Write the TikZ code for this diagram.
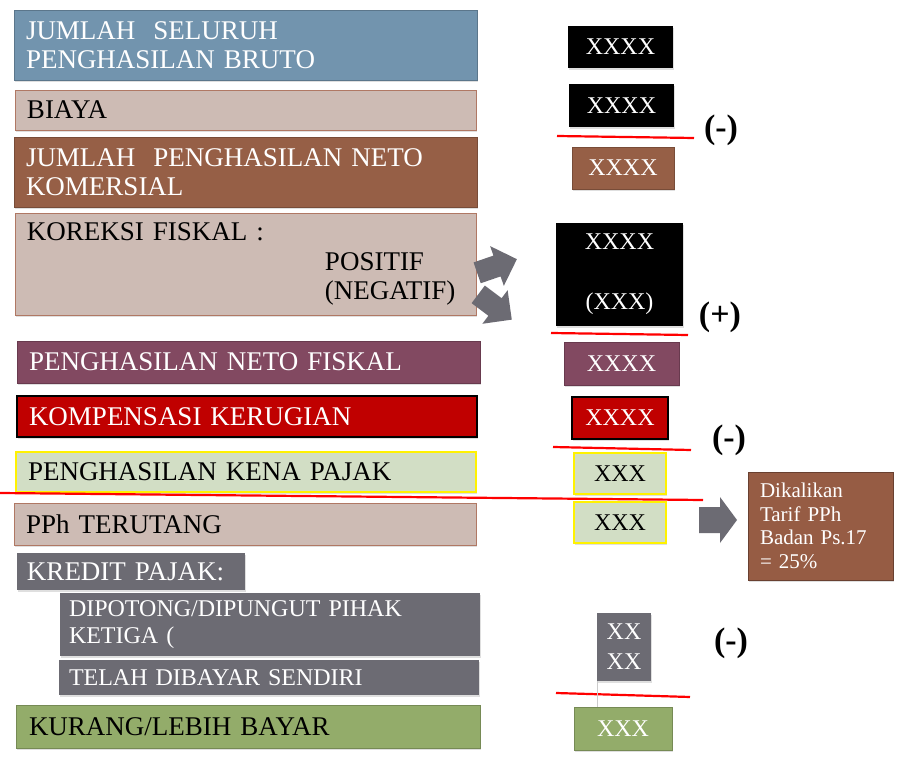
\documentclass[tikz,border=0pt]{standalone}
\usepackage{fontspec}
\setmainfont{Liberation Serif}
\usetikzlibrary{shadows}
\definecolor{blueBar}{RGB}{114,148,174}
\definecolor{tanBar}{RGB}{205,187,180}
\definecolor{tanLine}{RGB}{176,120,100}
\definecolor{brownBar}{RGB}{150,95,70}
\definecolor{purpleBar}{RGB}{130,73,97}
\definecolor{redBar}{RGB}{192,0,0}
\definecolor{paleGreen}{RGB}{210,222,197}
\definecolor{grayBar}{RGB}{108,107,115}
\definecolor{greenBar}{RGB}{147,172,106}
\definecolor{rateBrown}{RGB}{150,92,68}
\definecolor{redLine}{RGB}{255,0,0}

\begin{document}
\begin{tikzpicture}
  [x=1pt,y=-1pt,
   every node/.style={anchor=north west,outer sep=0pt,inner ysep=0pt},
   bar/.style={inner xsep=12pt,align=left,font=\fontsize{27}{29.5}\selectfont,
     drop shadow={opacity=0.25,shadow xshift=1pt,shadow yshift=-2pt}},
   val/.style={inner sep=0pt,align=center,font=\fontsize{24}{30}\selectfont,
     drop shadow={opacity=0.25,shadow xshift=1pt,shadow yshift=-2pt}},
   sign/.style={anchor=center,font=\fontsize{34}{34}\selectfont\bfseries},
   cut/.style={draw=redLine,line width=2.2pt},
   blk/.style={fill=grayBar}]
  \path[use as bounding box,fill=white] (0,0) rectangle (900,767);

  % left column
  \node[bar,fill=blueBar,draw=blueBar!80!black,text=white,text width=439pt,minimum height=70pt] (bruto) at (14,10) {JUMLAH~~SELURUH\\PENGHASILAN BRUTO};
  \node[bar,fill=tanBar,draw=tanLine,text width=437pt,minimum height=40pt] (biaya) at (15,90) {BIAYA};
  \node[bar,fill=brownBar,draw=brownBar!80!black,text=white,text width=439pt,minimum height=70pt] (neto) at (14,137) {JUMLAH~~PENGHASILAN NETO\\KOMERSIAL};
  \node[bar,fill=tanBar,draw=tanLine,text width=437pt,minimum height=102pt] (koreksi) at (15,213) {KOREKSI FISKAL :\\\hspace*{298pt}POSITIF\\\hspace*{298pt}(NEGATIF)};
  \node[bar,fill=purpleBar,draw=purpleBar!80!black,text=white,text width=439pt,minimum height=42pt] (fiskal) at (17,341) {PENGHASILAN NETO FISKAL};
  \node[bar,fill=redBar,draw=black,line width=1.2pt,text=white,text width=436pt,minimum height=41pt] (rugi) at (17,396) {KOMPENSASI KERUGIAN};
  \node[bar,fill=paleGreen,draw=yellow,line width=1.2pt,text width=436pt,minimum height=40pt] (pkp) at (16,452) {PENGHASILAN KENA PAJAK};
  \node[bar,fill=tanBar,draw=tanLine,text width=438pt,minimum height=42pt] (pph) at (14,503) {PPh TERUTANG};
  \node[bar,fill=grayBar,text=white,inner xsep=10pt,text width=208pt,minimum height=37pt] (kredit) at (17,553) {KREDIT PAJAK:};
  \node[bar,fill=grayBar,text=white,font=\fontsize{24}{27}\selectfont,inner xsep=9pt,text width=402pt,minimum height=63pt] (potong) at (60,593) {DIPOTONG/DIPUNGUT PIHAK\\KETIGA (};
  \node[bar,fill=grayBar,text=white,font=\fontsize{24}{27}\selectfont,inner xsep=10pt,text width=400pt,minimum height=35pt] (sendiri) at (59,660) {TELAH DIBAYAR SENDIRI};
  \node[bar,fill=greenBar,draw=greenBar!80!black,inner xsep=13pt,text width=438pt,minimum height=43pt] (bayar) at (16,705) {KURANG/LEBIH BAYAR};

  % values
  \node[val,fill=black,text=white,minimum width=105pt,minimum height=42pt] (v1) at (568,26) {XXXX};
  \node[val,fill=black,text=white,minimum width=105pt,minimum height=43pt] (v2) at (569,84) {XXXX};
  \node[val,fill=brownBar,draw=brownBar!80!black,text=white,minimum width=102pt,minimum height=42pt] (v3) at (572,147) {XXXX};
  \node[val,fill=black,text=white,minimum width=127pt,minimum height=103pt] (v4) at (556,223) {XXXX\\[30pt](XXX)};
  \node[val,fill=purpleBar,draw=purpleBar!80!black,text=white,minimum width=115pt,minimum height=43pt] (v5) at (564,342) {XXXX};
  \node[val,fill=redBar,draw=black,line width=1.5pt,text=white,minimum width=96pt,minimum height=42pt] (v6) at (572,397) {XXXX};
  \node[val,fill=paleGreen,draw=yellow,line width=1.2pt,minimum width=92pt,minimum height=41pt] (v7) at (574,453) {XXX};
  \node[val,fill=paleGreen,draw=yellow,line width=1.2pt,minimum width=92pt,minimum height=41pt] (v8) at (574,502) {XXX};
  \node[val,fill=grayBar,text=white,minimum width=54pt,minimum height=68pt] (v9) at (597,613) {XX\\XX};
  \node[val,fill=greenBar,draw=greenBar!80!black,text=white,minimum width=98pt,minimum height=43pt] (v10) at (574,707) {XXX};
  \node[bar,fill=rateBrown,draw=rateBrown!70!black,text=white,font=\fontsize{21}{23.5}\selectfont,text width=121pt,minimum height=108pt] (tarif) at (748,472) {Dikalikan\\Tarif PPh\\Badan Ps.17\\= 25\%};

  \node[sign] (m1) at (721,130) {(-)};
  \node[sign] (p1) at (720,317) {(+)};
  \node[sign] (m2) at (729,440) {(-)};
  \node[sign] (m3) at (731,643) {(-)};

  % red rules
  \draw[cut] (557,136) -- (694,138);
  \draw[cut] (551,333) -- (688,335);
  \draw[cut] (553,447) -- (691,450);
  \draw[cut] (0,493) -- (703,500);
  \draw[cut] (556,693) -- (690,697);
  \draw[gray!40] (v9.south west) -- (v9.south west |- v10.north);

  % block arrows
  \foreach \ax/\ay/\ang in {497/266/19,495/307/-37}
    \fill[blk,shift={(\ax,\ay)},rotate=\ang] (-21,-11) -- (0,-11) -- (0,-21) -- (21,0) -- (0,21) -- (0,11) -- (-21,11) -- cycle;
  \fill[blk,shift={(718,520)}] (-19,-13) -- (2,-13) -- (2,-23) -- (19,0) -- (2,23) -- (2,13) -- (-19,13) -- cycle;
\end{tikzpicture}
\end{document}
